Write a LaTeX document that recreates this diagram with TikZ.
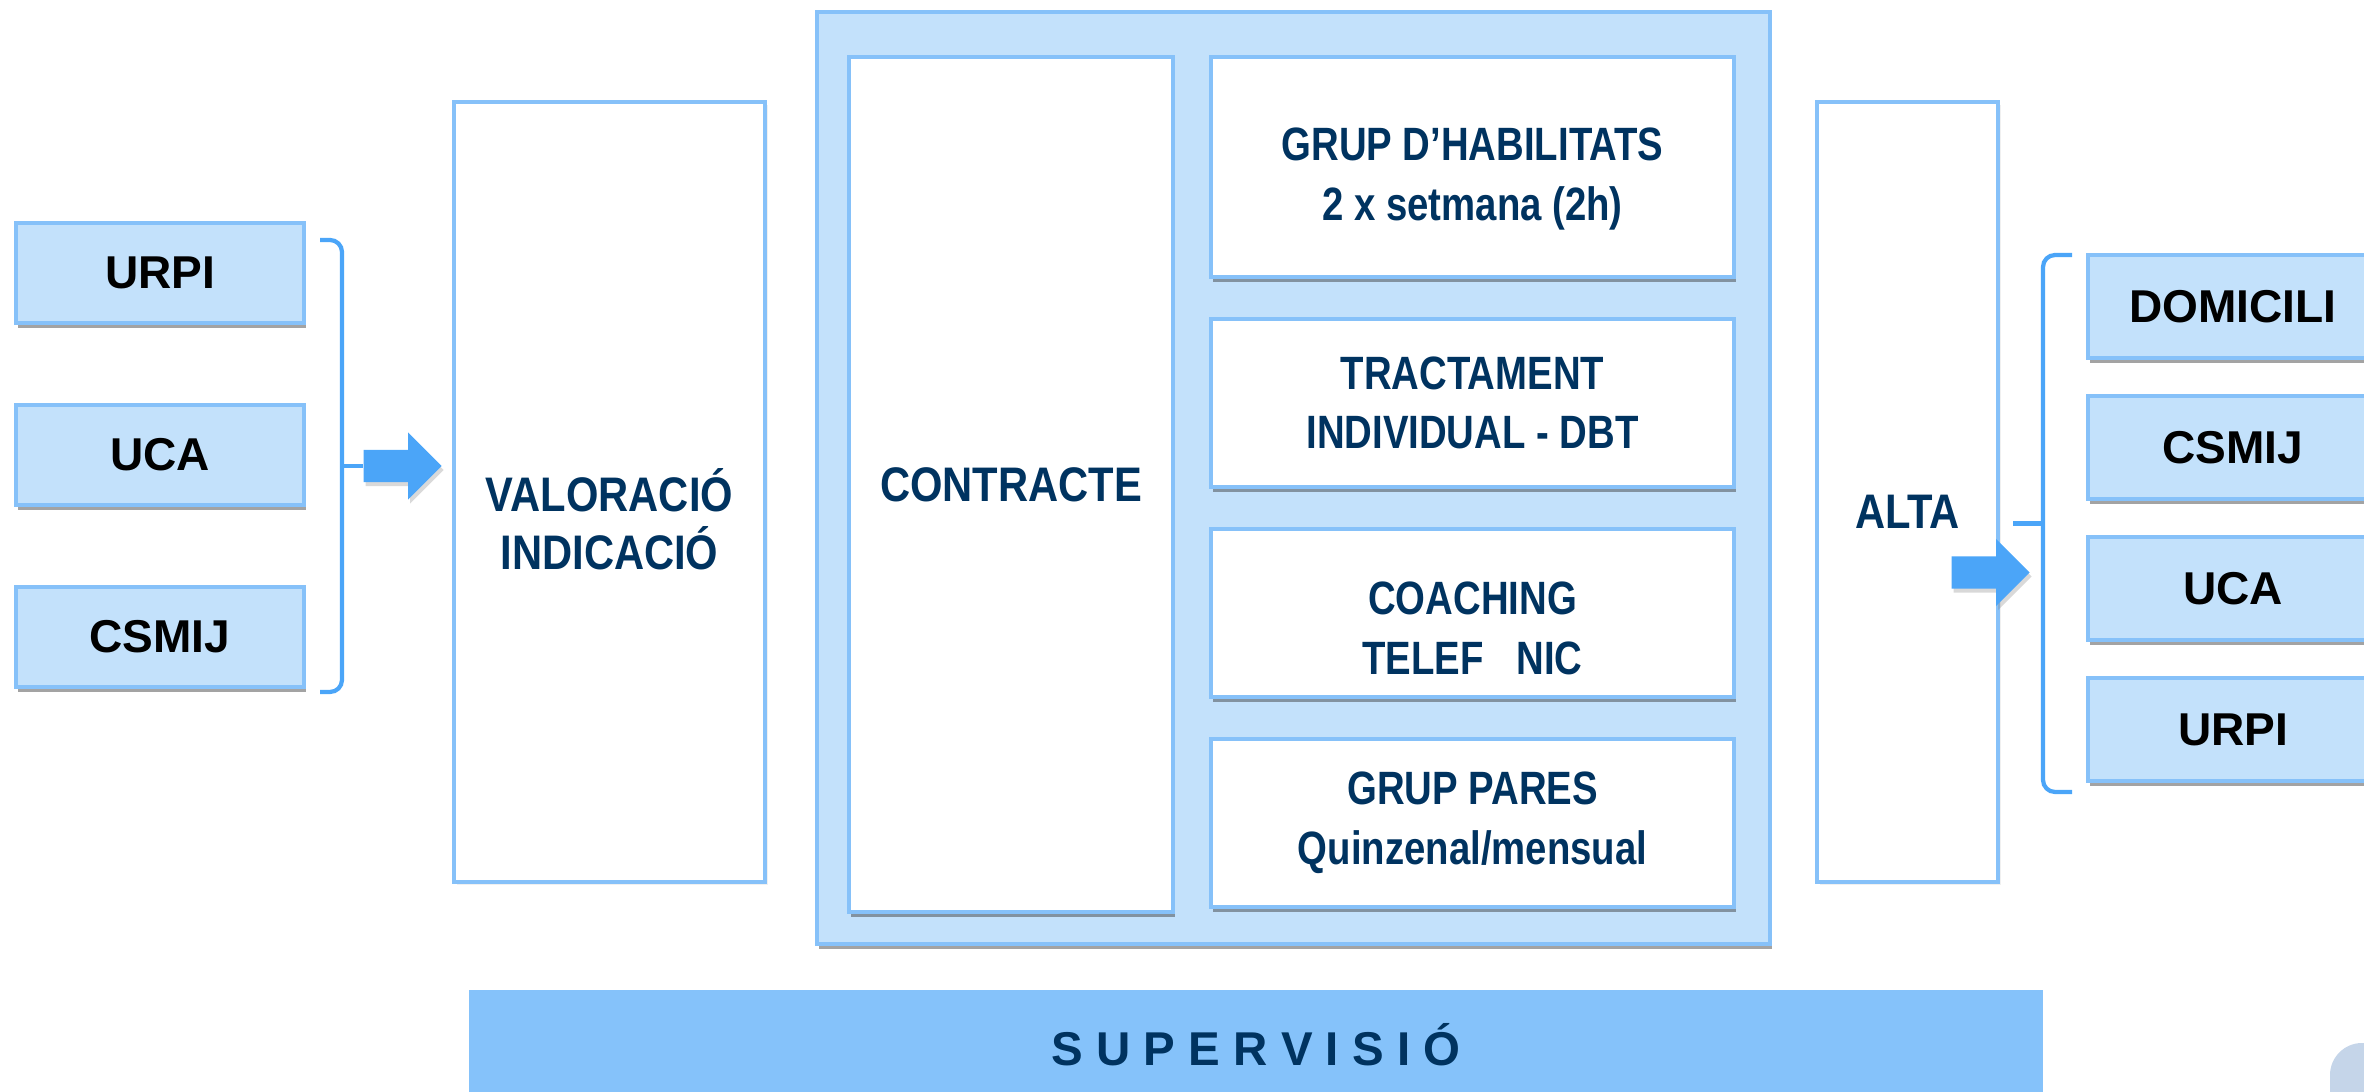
\documentclass[tikz,border=0pt]{standalone}
\usepackage{fontspec}
\setmainfont{Liberation Sans}
\newfontfamily\narrowfont{Liberation Sans}[FakeStretch=0.82]
\newfontfamily\tightfont{Liberation Sans}[FakeStretch=0.86]
\usepackage{tikz}
\usetikzlibrary{chains,positioning}
\usetikzlibrary{shapes.arrows,shadows}

\definecolor{paleblue}{RGB}{195,225,251}
\definecolor{edgeblue}{RGB}{134,193,249}
\definecolor{barblue}{RGB}{133,194,250}
\definecolor{arrowblue}{RGB}{75,165,248}
\definecolor{navy}{RGB}{0,51,96}
\definecolor{greyblue}{RGB}{197,213,233}

\begin{document}
\begin{tikzpicture}[x=1cm, y=-1cm,
		D/.style = {drop shadow={shadow xshift=0.02cm, shadow yshift=-0.05cm,
				opacity=0.45, fill=black!80}},
		O/.style = {rectangle, draw=edgeblue, line width=0.9pt, fill=paleblue,% origin and destination units
			minimum width=2.88cm, minimum height=1cm, outer sep=0pt,
			font=\fontsize{13.1}{16}\selectfont\bfseries, D, on chain},
		W/.style = {rectangle, draw=edgeblue, line width=0.9pt, fill=white, outer sep=0pt},
		T/.style = {text=navy, align=center,
			font=\tightfont\fontsize{13.8}{16.5}\selectfont\bfseries},
		P/.style = {W, D, text=navy, align=center,% boxes inside the programme
			font=\narrowfont\fontsize{13.3}{17}\selectfont\bfseries,
			minimum width=5.23cm, minimum height=1.68cm, on chain},
		A/.style = {single arrow, fill=arrowblue, inner xsep=0pt, inner ysep=0.155cm,
			minimum height=0.78cm, single arrow head extend=0.175cm, anchor=tail,
			drop shadow={shadow xshift=0.02cm, shadow yshift=-0.04cm, opacity=0.3}},
		B/.style = {draw=arrowblue, line width=1.2pt, rounded corners=0.12cm},% square braces
		]
	\path[use as bounding box] (0,0) rectangle (23.64,10.92);
	\clip (0,0) rectangle (23.64,10.92);

	% where the patients come from
	\begin{scope}[start chain=L going below, node distance=0.82cm]
		\node[O, at={(1.60,2.73)}] {URPI};
		\foreach \u in {UCA,CSMIJ}
		\node[O] {\u};
	\end{scope}
	\coordinate (lb1) at (3.20,2.40);
	\coordinate (lb2) at (3.20,6.92);
	\coordinate (lbm) at (3.42,4.66);
	\node (inarr) [A] at (3.63,4.66) {};
	\draw[B] (lb1) -| (lbm) |- (lb2);
	\draw[B] (lbm) -- (inarr.tail);

	\node (val) [W, minimum width=3.11cm, minimum height=7.8cm,
		drop shadow={shadow xshift=0.03cm, shadow yshift=-0.03cm, opacity=0.12},
		label={[T, yshift=-0.27cm]center:VALORACIÓ\\INDICACIÓ}] at (6.095,4.92) {};

	% the programme
	\node (prog) [rectangle, draw=edgeblue, line width=0.9pt, fill=paleblue, D,
		minimum width=9.53cm, minimum height=9.32cm] at (12.935,4.78) {};
	\node (contr) [W, D, T, minimum width=3.24cm, minimum height=8.55cm] at (10.11,4.845) {CONTRACTE};
	\begin{scope}[start chain=S going below, node distance=0.42cm]
		\node[P, minimum height=2.2cm, at={(14.725,1.67)}] {\rule{0pt}{16pt}GRUP D’HABILITATS\\2 x setmana (2h)};
		\node[P] {TRACTAMENT\\INDIVIDUAL - DBT};
		\node[P] {\rule{0pt}{18pt}COACHING\\TELEF\hspace{0.7em}NIC};
		\node[P] {GRUP PARES\\Quinzenal/mensual};
	\end{scope}

	\node (alta) [W, minimum width=1.81cm, minimum height=7.8cm,
		drop shadow={shadow xshift=0.03cm, shadow yshift=-0.03cm, opacity=0.12},
		label={[T, yshift=-0.2cm]center:ALTA}] at (19.075,4.92) {};
	\node (outarr) [A] at (19.51,5.725) {};

	% where they go after
	\coordinate (rb1) at (20.72,2.55);
	\coordinate (rb2) at (20.72,7.92);
	\coordinate (rbm) at (20.43,5.235);
	\coordinate (rbt) at (20.13,5.235);
	\draw[B] (rb1) -| (rbm) |- (rb2);
	\draw[B] (rbm) -- (rbt);
	\begin{scope}[start chain=R going below, node distance=0.38cm]
		\node[O, minimum width=2.9cm, minimum height=1.03cm, at={(22.33,3.065)}] {DOMICILI};
		\foreach \u in {CSMIJ,UCA,URPI}
		\node[O, minimum width=2.9cm, minimum height=1.03cm] {\u};
	\end{scope}

	\node (sup) [rectangle, fill=barblue, minimum width=15.74cm, minimum height=1.1cm,
		text=navy, font=\fontsize{13.5}{16}\selectfont\bfseries] at (12.56,10.45) {S U P E R V I S I Ó};
	\fill[greyblue, rounded corners=0.32cm] (23.30,10.43) rectangle (24.0,11.3);
\end{tikzpicture}
\end{document}
